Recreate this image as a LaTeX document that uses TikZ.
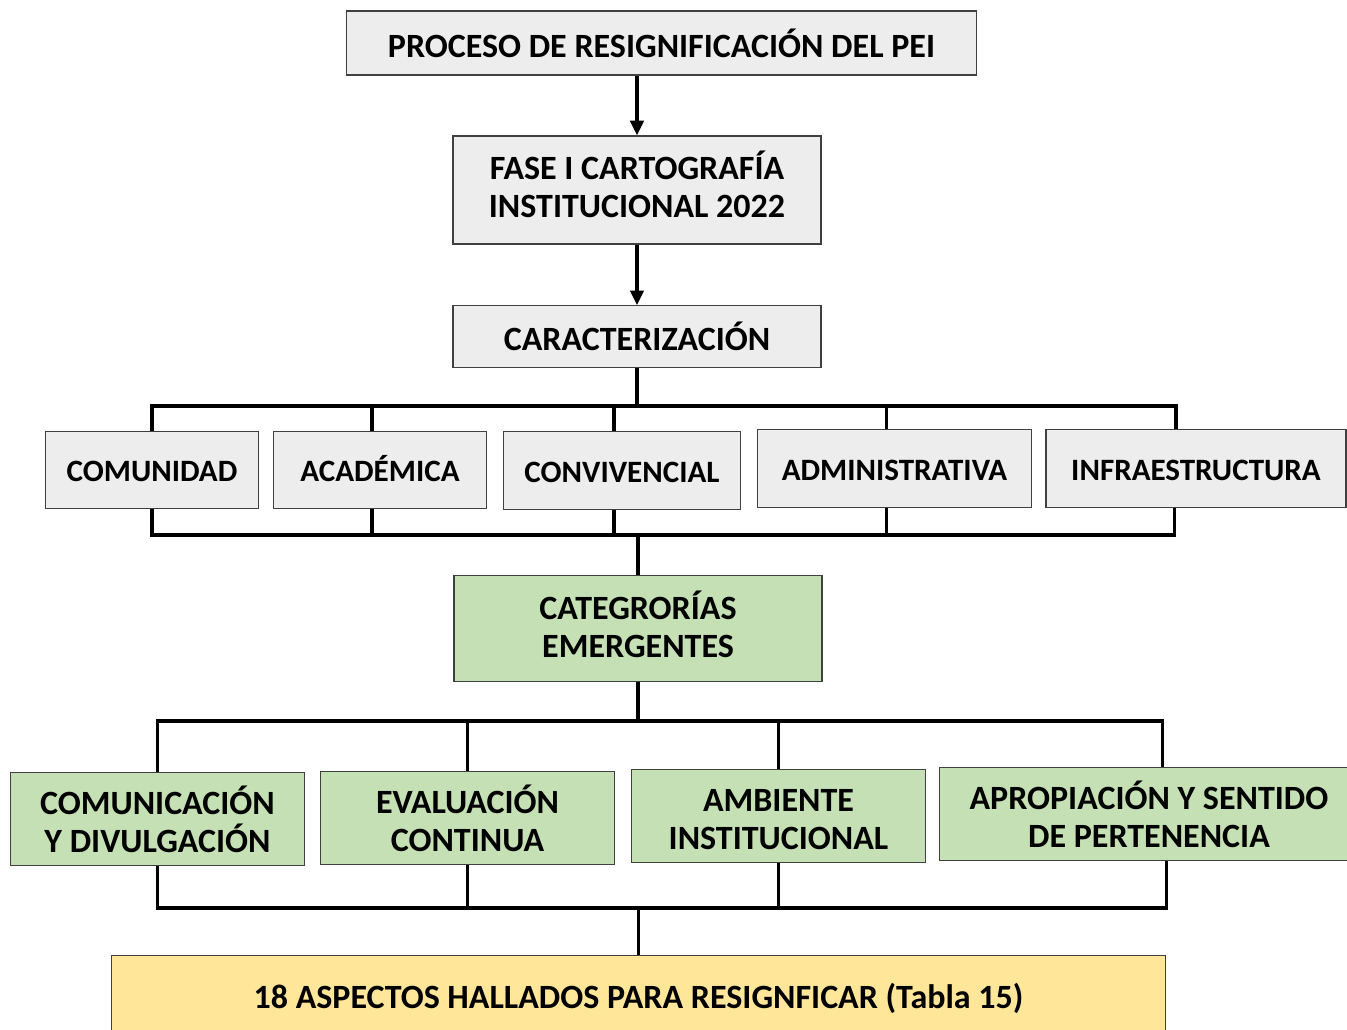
\documentclass[tikz,border=0pt]{standalone}
\usepackage{fontspec}
\setmainfont{Carlito}
\usetikzlibrary{arrows.meta, positioning, calc}
\definecolor{boxgray}{HTML}{EDEDED}
\definecolor{boxgreen}{HTML}{C5E0B4}
\definecolor{boxyellow}{HTML}{FFE699}
\definecolor{edgegray}{HTML}{404040}
\tikzset{
  phase/.style={
    rectangle, draw=edgegray, line width=0.9pt,
    fill=boxgray, align=center,
    font=\fontsize{25.5}{28.5}\selectfont\bfseries,
  },
  dimension/.style={
    phase, minimum height=58pt,
    font=\fontsize{23.3}{28}\selectfont\bfseries,
    text height=22pt, text depth=4pt,
  },
  category/.style={
    phase, fill=boxgreen, minimum height=70pt,
  },
  result/.style={
    phase, fill=boxyellow,
  },
  arrow/.style={-{Triangle[length=11pt, width=10pt]}, line width=2.4pt, color=black},
  link/.style={line width=2.6pt, color=black},
}
\begin{document}
\begin{tikzpicture}[x=0.75pt, y=-0.75pt]
  \useasboundingbox (0,0) rectangle (1347,1030);

  % cabecera
  \node[phase, minimum width=472pt, minimum height=48pt] (proceso) at (661.5,43) {PROCESO DE RESIGNIFICACIÓN DEL PEI};
  \node[phase, minimum width=276pt, minimum height=81pt] (fase) at (637,190) {FASE I CARTOGRAFÍA\\INSTITUCIONAL 2022\\[-19.5pt]};
  \node[phase, minimum width=276pt, minimum height=46pt] (carac) at (637,336.5) {CARACTERIZACIÓN};

  % dimensiones
  \node[dimension, minimum width=160pt] (comunidad) at (152,470) {COMUNIDAD};
  \node[dimension, minimum width=160pt] (academica) at (380,470) {ACADÉMICA};
  \node[dimension, minimum width=178pt] (convivencial) at (622,470.5) {CONVIVENCIAL};
  \node[dimension, minimum width=206pt] (administrativa) at (894.5,468.5) {ADMINISTRATIVA};
  \node[dimension, minimum width=225pt] (infra) at (1196,468.5) {INFRAESTRUCTURA};

  \node[category, minimum width=276pt, minimum height=79pt] (emergentes) at (638,628.5) {CATEGRORÍAS\\EMERGENTES\\[-22.5pt]};

  % categorías
  \node[category, minimum width=221pt] (comunicacion) at (157.5,819) {COMUNICACIÓN\\Y DIVULGACIÓN};
  \node[category, minimum width=221pt] (evaluacion) at (467.5,818) {EVALUACIÓN\\CONTINUA};
  \node[category, minimum width=221pt] (ambiente) at (778.5,816) {\vphantom{Ó}AMBIENTE\\INSTITUCIONAL};
  \node[category, minimum width=314pt] (apropiacion) at (1149,814) {APROPIACIÓN Y SENTIDO\\DE PERTENENCIA};

  \node[result, minimum width=791pt, minimum height=64pt] (aspectos) at (638.5,998) {18 ASPECTOS HALLADOS PARA RESIGNFICAR (Tabla 15)};

  % barras de unión
  \coordinate (top1) at (0,406);
  \coordinate (bot1) at (0,535);
  \coordinate (top2) at (0,721);
  \coordinate (bot2) at (0,908);
  \coordinate (infraN) at ([xshift=-15pt]infra.north);
  \coordinate (infraS) at ([xshift=-16pt]infra.south);
  \coordinate (apropN) at ([xshift=10pt]apropiacion.north);
  \coordinate (apropS) at ([xshift=13pt]apropiacion.south);

  \draw[arrow] (proceso.south -| fase.north) -- (fase.north);
  \draw[arrow] (fase) -- (carac);

  \draw[link] (carac.south) -- (carac.south |- top1);
  \draw[link] (comunidad.north) -- (comunidad.north |- top1) -- (infraN |- top1) -- (infraN);
  \foreach \n in {academica, convivencial, administrativa}
    \draw[link] ([xshift=-6pt]\n.north) -- ([xshift=-6pt]\n.north |- top1);

  \draw[link] (comunidad.south) -- (comunidad.south |- bot1) -- (infraS |- bot1) -- (infraS);
  \foreach \n in {academica, convivencial, administrativa}
    \draw[link] ([xshift=-6pt]\n.south) -- ([xshift=-6pt]\n.south |- bot1);
  \draw[link] (emergentes.north |- bot1) -- (emergentes.north);

  \draw[link] (emergentes.south) -- (emergentes.south |- top2);
  \draw[link] (comunicacion.north) -- (comunicacion.north |- top2) -- (apropN |- top2) -- (apropN);
  \foreach \n in {evaluacion, ambiente}
    \draw[link] (\n.north) -- (\n.north |- top2);

  \draw[link] (comunicacion.south) -- (comunicacion.south |- bot2) -- (apropS |- bot2) -- (apropS);
  \foreach \n in {evaluacion, ambiente}
    \draw[link] (\n.south) -- (\n.south |- bot2);
  \draw[link] (aspectos.north |- bot2) -- (aspectos.north);

\end{tikzpicture}
\end{document}
